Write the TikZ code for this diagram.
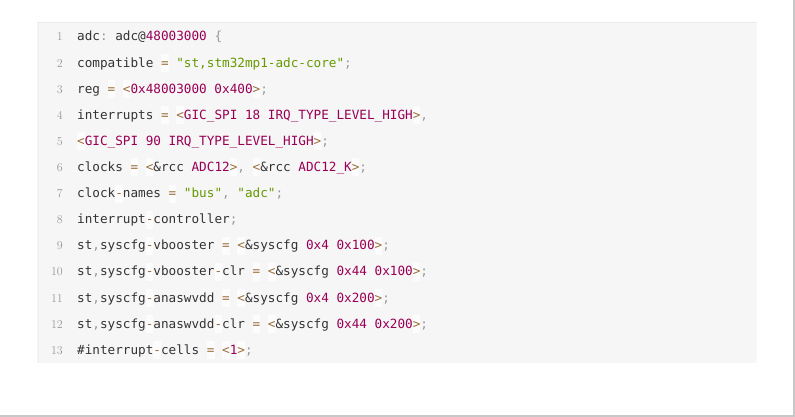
\documentclass[tikz,border=0pt]{standalone}
\usepackage{fontspec}
\setmonofont{DejaVu Sans Mono}
\usepackage{xcolor}
\definecolor{txt}{HTML}{333333}
\definecolor{pun}{HTML}{999999}
\definecolor{opc}{HTML}{9A6E3A}
\definecolor{opbg}{HTML}{FCFCFC}
\definecolor{numc}{HTML}{990055}
\definecolor{strc}{HTML}{669900}
\definecolor{boxbg}{HTML}{F6F6F6}
\definecolor{lnc}{HTML}{999999}
\newcommand\cop[1]{{\setlength{\fboxsep}{0pt}\colorbox{opbg}{\color{opc}\rule[-5pt]{0pt}{18pt}#1}}}
\newcommand\cpu[1]{{\color{pun}#1}}
\newcommand\cnum[1]{{\color{numc}#1}}
\newcommand\cstr[1]{{\color{strc}#1}}
\tikzset{
  codeline/.style={anchor=base west, inner sep=0pt, text=txt,
    font=\ttfamily\fontsize{12.67}{15}\selectfont},
  lineno/.style={anchor=base east, inner sep=0pt, text=lnc,
    font=\rmfamily\fontsize{12}{14}\selectfont}
}
\begin{document}
\begin{tikzpicture}
\useasboundingbox (0pt,0pt) rectangle (795pt,-417pt);
\fill[white] (0pt,0pt) rectangle (795pt,-417pt);
% outer border lines
\draw[color={rgb,255:red,200;green,200;blue,200}, line width=1.5pt] (0pt,-416pt) -- (794pt,-416pt) -- (794pt,0pt);
% code box
\fill[boxbg] (37pt,-22pt) rectangle (757pt,-363pt);
\draw[color={rgb,255:red,234;green,234;blue,234}, line width=1pt] (37pt,-22.5pt) -- (757pt,-22.5pt);
\draw[color={rgb,255:red,240;green,240;blue,240}, line width=1pt] (38pt,-23pt) -- (38pt,-363pt);
\draw[color={rgb,255:red,250;green,250;blue,250}, line width=1pt] (756pt,-23pt) -- (756pt,-363pt);
% line numbers
\foreach \i in {1,...,13} {
  \node[lineno] (n\i) at (63pt,{-41pt-26.1pt*(\i-1)}) {\i};
}
% code lines
\node[codeline] (l1) at (77pt,-41pt) {adc\cpu{:} adc@\cnum{48003000} \cpu{\{}};
\node[codeline] (l2) at (77pt,-67.1pt) {compatible \cop{=} \cstr{"st,stm32mp1-adc-core"}\cpu{;}};
\node[codeline] (l3) at (77pt,-93.2pt) {reg \cop{=} \cop{<}\cnum{0x48003000 0x400}\cop{>}\cpu{;}};
\node[codeline] (l4) at (77pt,-119.3pt) {interrupts \cop{=} \cop{<}\cnum{GIC\_SPI 18 IRQ\_TYPE\_LEVEL\_HIGH}\cop{>}\cpu{,}};
\node[codeline] (l5) at (77pt,-145.4pt) {\cop{<}\cnum{GIC\_SPI 90 IRQ\_TYPE\_LEVEL\_HIGH}\cop{>}\cpu{;}};
\node[codeline] (l6) at (77pt,-171.5pt) {clocks \cop{=} \cop{<}\&rcc \cnum{ADC12}\cop{>}\cpu{,} \cop{<}\&rcc \cnum{ADC12\_K}\cop{>}\cpu{;}};
\node[codeline] (l7) at (77pt,-197.6pt) {clock\cop{-}names \cop{=} \cstr{"bus"}\cpu{,} \cstr{"adc"}\cpu{;}};
\node[codeline] (l8) at (77pt,-223.7pt) {interrupt\cop{-}controller\cpu{;}};
\node[codeline] (l9) at (77pt,-249.8pt) {st\cpu{,}syscfg\cop{-}vbooster \cop{=} \cop{<}\&syscfg \cnum{0x4 0x100}\cop{>}\cpu{;}};
\node[codeline] (l10) at (77pt,-275.9pt) {st\cpu{,}syscfg\cop{-}vbooster\cop{-}clr \cop{=} \cop{<}\&syscfg \cnum{0x44 0x100}\cop{>}\cpu{;}};
\node[codeline] (l11) at (77pt,-302pt) {st\cpu{,}syscfg\cop{-}anaswvdd \cop{=} \cop{<}\&syscfg \cnum{0x4 0x200}\cop{>}\cpu{;}};
\node[codeline] (l12) at (77pt,-328.1pt) {st\cpu{,}syscfg\cop{-}anaswvdd\cop{-}clr \cop{=} \cop{<}\&syscfg \cnum{0x44 0x200}\cop{>}\cpu{;}};
\node[codeline] (l13) at (77pt,-354.2pt) {\#interrupt\cop{-}cells \cop{=} \cop{<}\cnum{1}\cop{>}\cpu{;}};
\end{tikzpicture}
\end{document}
